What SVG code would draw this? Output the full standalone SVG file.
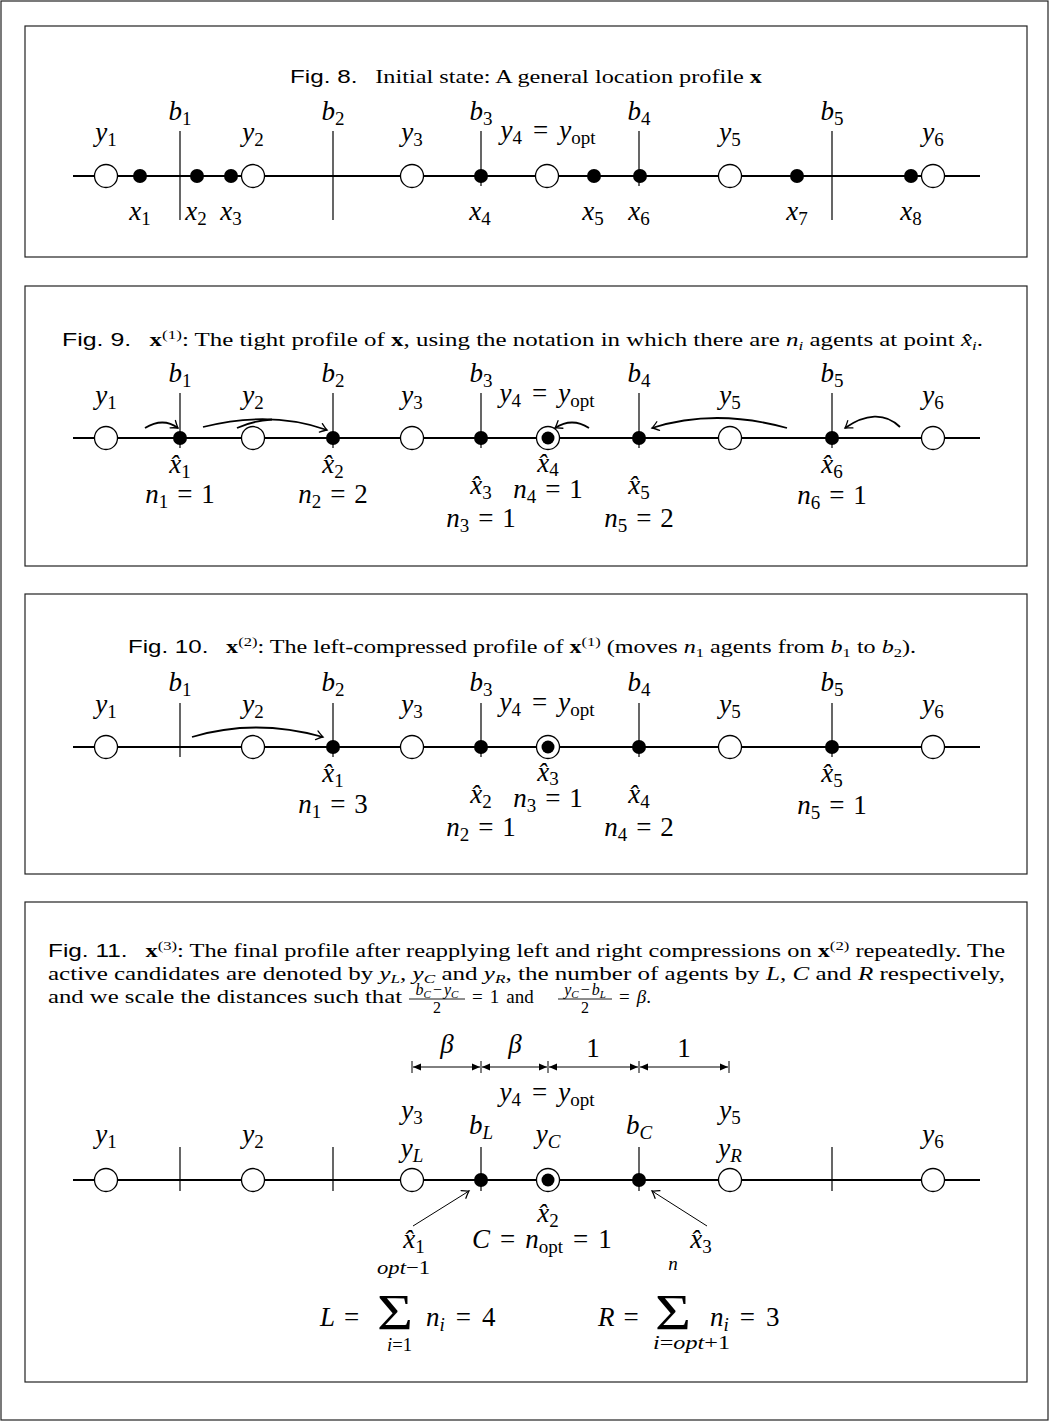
<svg xmlns="http://www.w3.org/2000/svg" width="1050" height="1422" viewBox="0 0 1050 1422">
<defs>
<style>
.frame{fill:none;stroke:#222;stroke-width:1.2}
.ax{stroke:#000;stroke-width:2;fill:none}
.bl{stroke:#000;stroke-width:1.2;fill:none}
.cand{fill:#fff;stroke:#000;stroke-width:1.3}
.ag{fill:#000}
.mv{stroke:#000;stroke-width:1.8;fill:none}
.end{marker-end:url(#to)}
.ptr{stroke:#000;stroke-width:1;fill:none;marker-end:url(#to)}
.dim{stroke:#000;stroke-width:1;fill:none;marker-start:url(#tri);marker-end:url(#tri)}
.tick{stroke:#000;stroke-width:1}
.m{font-family:"Liberation Serif",serif;font-size:27px;font-style:italic;text-anchor:middle;fill:#000}
.st{text-anchor:start}
.s{font-size:19px;font-style:normal}
.si{font-size:19px}
.u{font-style:normal}
.cap{font-family:"Liberation Serif",serif;font-size:19px;fill:#000}
.sf{font-family:"Liberation Sans",sans-serif}
.bx{font-weight:bold;font-style:normal}
.sup{font-size:13px}
.it{font-style:italic}
.sig{font-family:"Liberation Serif",serif;font-size:50px;font-style:normal}
.lim{font-family:"Liberation Serif",serif;font-size:19px;font-style:italic}
.fr{font-family:"Liberation Serif",serif;font-size:16px;text-anchor:middle}
</style>
<marker id="to" viewBox="-8 -6 10 12" markerWidth="10" markerHeight="12" refX="0" refY="0" orient="auto" markerUnits="userSpaceOnUse">
<path d="M-6.5,-4.5 Q-2,-1 0,0 Q-2,1 -6.5,4.5" fill="none" stroke="#000" stroke-width="1.3" stroke-linecap="round"/>
</marker>
<marker id="tri" viewBox="-9 -4 10 8" markerWidth="10" markerHeight="8" refX="0" refY="0" orient="auto-start-reverse" markerUnits="userSpaceOnUse">
<path d="M0,0 L-8,-3.5 L-8,3.5 Z" fill="#000"/>
</marker>
</defs>

<rect x="0" y="0" width="1050" height="1422" fill="#fff"/>
<rect class="frame" x="1" y="1" width="1047" height="1419"/>

<!-- ===== Fig. 8: initial location profile ===== -->
<g id="fig8">
<rect class="frame" x="25" y="26" width="1002" height="231"/>
<text class="cap" x="290" y="83" textLength="472" lengthAdjust="spacingAndGlyphs"><tspan class="sf">Fig. 8.</tspan><tspan dx="14">Initial state: A general location profile </tspan><tspan class="bx">x</tspan></text>
<g id="fig8-lines">
<line class="ax" x1="73" y1="176" x2="980" y2="176"/>
<line class="bl" x1="180" y1="131" x2="180" y2="220"/>
<line class="bl" x1="333" y1="131" x2="333" y2="220"/>
<line class="bl" x1="481" y1="131" x2="481" y2="186"/>
<line class="bl" x1="639" y1="131" x2="639" y2="186"/>
<line class="bl" x1="832" y1="131" x2="832" y2="220"/>
</g>
<g id="fig8-y1"><circle class="cand" cx="106" cy="176" r="11.5"/></g>
<g id="fig8-y2"><circle class="cand" cx="253" cy="176" r="11.5"/></g>
<g id="fig8-y3"><circle class="cand" cx="412" cy="176" r="11.5"/></g>
<g id="fig8-y4"><circle class="cand" cx="547" cy="176" r="11.5"/></g>
<g id="fig8-y5"><circle class="cand" cx="730" cy="176" r="11.5"/></g>
<g id="fig8-y6"><circle class="cand" cx="933" cy="176" r="11.5"/></g>
<g id="fig8-x1"><circle class="ag" cx="140" cy="176" r="7"/></g>
<g id="fig8-x2"><circle class="ag" cx="197" cy="176" r="7"/></g>
<g id="fig8-x3"><circle class="ag" cx="231" cy="176" r="7"/></g>
<g id="fig8-x4"><circle class="ag" cx="481" cy="176" r="7"/></g>
<g id="fig8-x5"><circle class="ag" cx="594" cy="176" r="7"/></g>
<g id="fig8-x6"><circle class="ag" cx="640" cy="176" r="7"/></g>
<g id="fig8-x7"><circle class="ag" cx="797" cy="176" r="7"/></g>
<g id="fig8-x8"><circle class="ag" cx="911" cy="176" r="7"/></g>
<g id="fig8-labels">
<text class="m" x="180" y="120">b<tspan class="s" dy="5">1</tspan></text>
<text class="m" x="333" y="120">b<tspan class="s" dy="5">2</tspan></text>
<text class="m" x="481" y="120">b<tspan class="s" dy="5">3</tspan></text>
<text class="m" x="639" y="120">b<tspan class="s" dy="5">4</tspan></text>
<text class="m" x="832" y="120">b<tspan class="s" dy="5">5</tspan></text>
<text class="m" x="106" y="141">y<tspan class="s" dy="5">1</tspan></text>
<text class="m" x="253" y="141">y<tspan class="s" dy="5">2</tspan></text>
<text class="m" x="412" y="141">y<tspan class="s" dy="5">3</tspan></text>
<text class="m" x="548" y="139">y<tspan class="s" dy="5">4</tspan><tspan class="u" dy="-5" dx="11">=</tspan><tspan dx="11">y</tspan><tspan class="s" dy="5">opt</tspan></text>
<text class="m" x="730" y="141">y<tspan class="s" dy="5">5</tspan></text>
<text class="m" x="933" y="141">y<tspan class="s" dy="5">6</tspan></text>
<text class="m" x="140" y="220">x<tspan class="s" dy="5">1</tspan></text>
<text class="m" x="196" y="220">x<tspan class="s" dy="5">2</tspan></text>
<text class="m" x="231" y="220">x<tspan class="s" dy="5">3</tspan></text>
<text class="m" x="480" y="220">x<tspan class="s" dy="5">4</tspan></text>
<text class="m" x="593" y="220">x<tspan class="s" dy="5">5</tspan></text>
<text class="m" x="639" y="220">x<tspan class="s" dy="5">6</tspan></text>
<text class="m" x="797" y="220">x<tspan class="s" dy="5">7</tspan></text>
<text class="m" x="911" y="220">x<tspan class="s" dy="5">8</tspan></text>
</g>
</g>

<!-- ===== Fig. 9: tight profile ===== -->
<g id="fig9">
<rect class="frame" x="25" y="286" width="1002" height="280"/>
<text class="cap" x="62" y="346" textLength="921" lengthAdjust="spacingAndGlyphs"><tspan class="sf">Fig. 9.</tspan><tspan class="bx" dx="14">x</tspan><tspan class="sup" dy="-7">(1)</tspan><tspan dy="7">: The tight profile of </tspan><tspan class="bx">x</tspan><tspan>, using the notation in which there are </tspan><tspan class="it">n</tspan><tspan class="sup it" dy="4">i</tspan><tspan dy="-4"> agents at point </tspan><tspan class="it">x&#x302;</tspan><tspan class="sup it" dy="4">i</tspan><tspan dy="-4">.</tspan></text>
<g id="fig9-lines">
<line class="ax" x1="73" y1="438" x2="980" y2="438"/>
<line class="bl" x1="180" y1="393" x2="180" y2="448"/>
<line class="bl" x1="333" y1="393" x2="333" y2="448"/>
<line class="bl" x1="481" y1="393" x2="481" y2="448"/>
<line class="bl" x1="639" y1="393" x2="639" y2="448"/>
<line class="bl" x1="832" y1="393" x2="832" y2="448"/>
</g>
<g id="fig9-y1"><circle class="cand" cx="106" cy="438" r="11.5"/></g>
<g id="fig9-y2"><circle class="cand" cx="253" cy="438" r="11.5"/></g>
<g id="fig9-y3"><circle class="cand" cx="412" cy="438" r="11.5"/></g>
<g id="fig9-y4"><circle class="cand" cx="548" cy="438" r="11.5"/><circle class="ag" cx="548" cy="438" r="6.5"/></g>
<g id="fig9-y5"><circle class="cand" cx="730" cy="438" r="11.5"/></g>
<g id="fig9-y6"><circle class="cand" cx="933" cy="438" r="11.5"/></g>
<g id="fig9-x1"><circle class="ag" cx="180" cy="438" r="7"/></g>
<g id="fig9-x2"><circle class="ag" cx="333" cy="438" r="7"/></g>
<g id="fig9-x3"><circle class="ag" cx="481" cy="438" r="7"/></g>
<g id="fig9-x5"><circle class="ag" cx="639" cy="438" r="7"/></g>
<g id="fig9-x6"><circle class="ag" cx="832" cy="438" r="7"/></g>
<g id="fig9-moves">
<path class="mv end" d="M145,428 Q163,417 178,428"/>
<path class="mv end" d="M203,427 Q270,410 327,430"/>
<path class="mv" d="M237,428 Q252,421 272,419.5"/>
<path class="mv end" d="M589,428 Q572,417 555,428"/>
<path class="mv end" d="M787,428 Q715,408 652,428"/>
<path class="mv end" d="M900,427 C885,412 865,414 845,428"/>
</g>
<g id="fig9-labels">
<text class="m" x="180" y="382">b<tspan class="s" dy="5">1</tspan></text>
<text class="m" x="333" y="382">b<tspan class="s" dy="5">2</tspan></text>
<text class="m" x="481" y="382">b<tspan class="s" dy="5">3</tspan></text>
<text class="m" x="639" y="382">b<tspan class="s" dy="5">4</tspan></text>
<text class="m" x="832" y="382">b<tspan class="s" dy="5">5</tspan></text>
<text class="m" x="106" y="404">y<tspan class="s" dy="5">1</tspan></text>
<text class="m" x="253" y="404">y<tspan class="s" dy="5">2</tspan></text>
<text class="m" x="412" y="404">y<tspan class="s" dy="5">3</tspan></text>
<text class="m" x="547" y="402">y<tspan class="s" dy="5">4</tspan><tspan class="u" dy="-5" dx="11">=</tspan><tspan dx="11">y</tspan><tspan class="s" dy="5">opt</tspan></text>
<text class="m" x="730" y="404">y<tspan class="s" dy="5">5</tspan></text>
<text class="m" x="933" y="404">y<tspan class="s" dy="5">6</tspan></text>
<text class="m" x="180" y="473">x&#x302;<tspan class="s" dy="5">1</tspan></text>
<text class="m" x="333" y="473">x&#x302;<tspan class="s" dy="5">2</tspan></text>
<text class="m" x="548" y="472">x&#x302;<tspan class="s" dy="4">4</tspan></text>
<text class="m" x="832" y="473">x&#x302;<tspan class="s" dy="5">6</tspan></text>
<text class="m" x="481" y="494">x&#x302;<tspan class="s" dy="5">3</tspan></text>
<text class="m" x="639" y="494">x&#x302;<tspan class="s" dy="5">5</tspan></text>
<text class="m" x="548" y="498">n<tspan class="s" dy="5">4</tspan><tspan class="u" dy="-5" dx="9">=</tspan><tspan class="u" dx="9">1</tspan></text>
<text class="m" x="180" y="503">n<tspan class="s" dy="5">1</tspan><tspan class="u" dy="-5" dx="9">=</tspan><tspan class="u" dx="9">1</tspan></text>
<text class="m" x="333" y="503">n<tspan class="s" dy="5">2</tspan><tspan class="u" dy="-5" dx="9">=</tspan><tspan class="u" dx="9">2</tspan></text>
<text class="m" x="832" y="504">n<tspan class="s" dy="5">6</tspan><tspan class="u" dy="-5" dx="9">=</tspan><tspan class="u" dx="9">1</tspan></text>
<text class="m" x="481" y="527">n<tspan class="s" dy="5">3</tspan><tspan class="u" dy="-5" dx="9">=</tspan><tspan class="u" dx="9">1</tspan></text>
<text class="m" x="639" y="527">n<tspan class="s" dy="5">5</tspan><tspan class="u" dy="-5" dx="9">=</tspan><tspan class="u" dx="9">2</tspan></text>
</g>
</g>

<!-- ===== Fig. 10: left-compressed profile ===== -->
<g id="fig10">
<rect class="frame" x="25" y="594" width="1002" height="280"/>
<text class="cap" x="128" y="653" textLength="788" lengthAdjust="spacingAndGlyphs"><tspan class="sf">Fig. 10.</tspan><tspan class="bx" dx="14">x</tspan><tspan class="sup" dy="-7">(2)</tspan><tspan dy="7">: The left-compressed profile of </tspan><tspan class="bx">x</tspan><tspan class="sup" dy="-7">(1)</tspan><tspan dy="7"> (moves </tspan><tspan class="it">n</tspan><tspan class="sup" dy="4">1</tspan><tspan dy="-4"> agents from </tspan><tspan class="it">b</tspan><tspan class="sup" dy="4">1</tspan><tspan dy="-4"> to </tspan><tspan class="it">b</tspan><tspan class="sup" dy="4">2</tspan><tspan dy="-4">).</tspan></text>
<g id="fig10-lines">
<line class="ax" x1="73" y1="747" x2="980" y2="747"/>
<line class="bl" x1="180" y1="703" x2="180" y2="757"/>
<line class="bl" x1="333" y1="703" x2="333" y2="757"/>
<line class="bl" x1="481" y1="703" x2="481" y2="757"/>
<line class="bl" x1="639" y1="703" x2="639" y2="757"/>
<line class="bl" x1="832" y1="703" x2="832" y2="757"/>
</g>
<g id="fig10-y1"><circle class="cand" cx="106" cy="747" r="11.5"/></g>
<g id="fig10-y2"><circle class="cand" cx="253" cy="747" r="11.5"/></g>
<g id="fig10-y3"><circle class="cand" cx="412" cy="747" r="11.5"/></g>
<g id="fig10-y4"><circle class="cand" cx="548" cy="747" r="11.5"/><circle class="ag" cx="548" cy="747" r="6.5"/></g>
<g id="fig10-y5"><circle class="cand" cx="730" cy="747" r="11.5"/></g>
<g id="fig10-y6"><circle class="cand" cx="933" cy="747" r="11.5"/></g>
<g id="fig10-x1"><circle class="ag" cx="333" cy="747" r="7"/></g>
<g id="fig10-x2"><circle class="ag" cx="481" cy="747" r="7"/></g>
<g id="fig10-x4"><circle class="ag" cx="639" cy="747" r="7"/></g>
<g id="fig10-x5"><circle class="ag" cx="832" cy="747" r="7"/></g>
<g id="fig10-moves">
<path class="mv end" d="M192,737 Q255,718 323,737"/>
</g>
<g id="fig10-labels">
<text class="m" x="180" y="691">b<tspan class="s" dy="5">1</tspan></text>
<text class="m" x="333" y="691">b<tspan class="s" dy="5">2</tspan></text>
<text class="m" x="481" y="691">b<tspan class="s" dy="5">3</tspan></text>
<text class="m" x="639" y="691">b<tspan class="s" dy="5">4</tspan></text>
<text class="m" x="832" y="691">b<tspan class="s" dy="5">5</tspan></text>
<text class="m" x="106" y="713">y<tspan class="s" dy="5">1</tspan></text>
<text class="m" x="253" y="713">y<tspan class="s" dy="5">2</tspan></text>
<text class="m" x="412" y="713">y<tspan class="s" dy="5">3</tspan></text>
<text class="m" x="547" y="711">y<tspan class="s" dy="5">4</tspan><tspan class="u" dy="-5" dx="11">=</tspan><tspan dx="11">y</tspan><tspan class="s" dy="5">opt</tspan></text>
<text class="m" x="730" y="713">y<tspan class="s" dy="5">5</tspan></text>
<text class="m" x="933" y="713">y<tspan class="s" dy="5">6</tspan></text>
<text class="m" x="333" y="782">x&#x302;<tspan class="s" dy="5">1</tspan></text>
<text class="m" x="548" y="781">x&#x302;<tspan class="s" dy="4">3</tspan></text>
<text class="m" x="832" y="782">x&#x302;<tspan class="s" dy="5">5</tspan></text>
<text class="m" x="481" y="803">x&#x302;<tspan class="s" dy="5">2</tspan></text>
<text class="m" x="639" y="803">x&#x302;<tspan class="s" dy="5">4</tspan></text>
<text class="m" x="548" y="807">n<tspan class="s" dy="5">3</tspan><tspan class="u" dy="-5" dx="9">=</tspan><tspan class="u" dx="9">1</tspan></text>
<text class="m" x="333" y="813">n<tspan class="s" dy="5">1</tspan><tspan class="u" dy="-5" dx="9">=</tspan><tspan class="u" dx="9">3</tspan></text>
<text class="m" x="832" y="814">n<tspan class="s" dy="5">5</tspan><tspan class="u" dy="-5" dx="9">=</tspan><tspan class="u" dx="9">1</tspan></text>
<text class="m" x="481" y="836">n<tspan class="s" dy="5">2</tspan><tspan class="u" dy="-5" dx="9">=</tspan><tspan class="u" dx="9">1</tspan></text>
<text class="m" x="639" y="836">n<tspan class="s" dy="5">4</tspan><tspan class="u" dy="-5" dx="9">=</tspan><tspan class="u" dx="9">2</tspan></text>
</g>
</g>

<!-- ===== Fig. 11: final profile ===== -->
<g id="fig11">
<rect class="frame" x="25" y="902" width="1002" height="480"/>
<text class="cap" x="48" y="957" textLength="957" lengthAdjust="spacingAndGlyphs"><tspan class="sf">Fig. 11.</tspan><tspan class="bx" dx="14">x</tspan><tspan class="sup" dy="-7">(3)</tspan><tspan dy="7">: The final profile after reapplying left and right compressions on </tspan><tspan class="bx">x</tspan><tspan class="sup" dy="-7">(2)</tspan><tspan dy="7"> repeatedly. The</tspan></text>
<text class="cap" x="48" y="980" textLength="957" lengthAdjust="spacingAndGlyphs">active candidates are denoted by <tspan class="it">y</tspan><tspan class="sup it" dy="3">L</tspan><tspan dy="-3">, </tspan><tspan class="it">y</tspan><tspan class="sup it" dy="3">C</tspan><tspan dy="-3"> and </tspan><tspan class="it">y</tspan><tspan class="sup it" dy="3">R</tspan><tspan dy="-3">, the number of agents by </tspan><tspan class="it">L</tspan>, <tspan class="it">C</tspan> and <tspan class="it">R</tspan> respectively,</text>
<text class="cap" x="48" y="1003" textLength="354" lengthAdjust="spacingAndGlyphs">and we scale the distances such that</text>
<g id="fig11-fractions">
<text class="fr" x="437" y="995"><tspan class="it">b</tspan><tspan class="it" font-size="11" dy="3">C</tspan><tspan dy="-3" dx="2">−</tspan><tspan class="it" dx="2">y</tspan><tspan class="it" font-size="11" dy="3">C</tspan></text>
<line x1="409" y1="999" x2="465" y2="999" stroke="#000" stroke-width="0.9"/>
<text class="fr" x="437" y="1013">2</text>
<text class="cap" x="472" y="1003">=<tspan dx="7">1</tspan><tspan dx="7">and</tspan></text>
<text class="fr" x="585" y="995"><tspan class="it">y</tspan><tspan class="it" font-size="11" dy="3">C</tspan><tspan dy="-3" dx="2">−</tspan><tspan class="it" dx="2">b</tspan><tspan class="it" font-size="11" dy="3">L</tspan></text>
<line x1="558" y1="999" x2="612" y2="999" stroke="#000" stroke-width="0.9"/>
<text class="fr" x="585" y="1013">2</text>
<text class="cap" x="619" y="1003">=<tspan class="it" dx="7">β</tspan>.</text>
</g>

<g id="fig11-dims">
<line class="tick" x1="412" y1="1061" x2="412" y2="1073"/>
<line class="tick" x1="481" y1="1061" x2="481" y2="1073"/>
<line class="tick" x1="548" y1="1061" x2="548" y2="1073"/>
<line class="tick" x1="639" y1="1061" x2="639" y2="1073"/>
<line class="tick" x1="729" y1="1061" x2="729" y2="1073"/>
<line class="dim" x1="413" y1="1067" x2="480" y2="1067"/>
<line class="dim" x1="482" y1="1067" x2="547" y2="1067"/>
<line class="dim" x1="549" y1="1067" x2="638" y2="1067"/>
<line class="dim" x1="640" y1="1067" x2="728" y2="1067"/>
<text class="m" x="447" y="1053">β</text>
<text class="m" x="515" y="1053">β</text>
<text class="m u" x="593" y="1057">1</text>
<text class="m u" x="684" y="1057">1</text>
</g>

<g id="fig11-lines">
<line class="ax" x1="73" y1="1180" x2="980" y2="1180"/>
<line class="bl" x1="180" y1="1147" x2="180" y2="1191"/>
<line class="bl" x1="333" y1="1147" x2="333" y2="1191"/>
<line class="bl" x1="481" y1="1147" x2="481" y2="1191"/>
<line class="bl" x1="639" y1="1147" x2="639" y2="1191"/>
<line class="bl" x1="832" y1="1147" x2="832" y2="1191"/>
</g>
<g id="fig11-y1"><circle class="cand" cx="106" cy="1180" r="11.5"/></g>
<g id="fig11-y2"><circle class="cand" cx="253" cy="1180" r="11.5"/></g>
<g id="fig11-y3"><circle class="cand" cx="412" cy="1180" r="11.5"/></g>
<g id="fig11-y4"><circle class="cand" cx="548" cy="1180" r="11.5"/><circle class="ag" cx="548" cy="1180" r="6.5"/></g>
<g id="fig11-y5"><circle class="cand" cx="730" cy="1180" r="11.5"/></g>
<g id="fig11-y6"><circle class="cand" cx="933" cy="1180" r="11.5"/></g>
<g id="fig11-x1"><circle class="ag" cx="481" cy="1180" r="7"/></g>
<g id="fig11-x3"><circle class="ag" cx="639" cy="1180" r="7"/></g>
<g id="fig11-pointers">
<path class="ptr" d="M413,1226 L469,1191"/>
<path class="ptr" d="M707,1226 L652,1191"/>
</g>
<g id="fig11-labels">
<text class="m" x="547" y="1101">y<tspan class="s" dy="5">4</tspan><tspan class="u" dy="-5" dx="11">=</tspan><tspan dx="11">y</tspan><tspan class="s" dy="5">opt</tspan></text>
<text class="m" x="412" y="1119">y<tspan class="s" dy="5">3</tspan></text>
<text class="m" x="412" y="1157">y<tspan class="si" dy="5">L</tspan></text>
<text class="m" x="481" y="1134">b<tspan class="si" dy="5">L</tspan></text>
<text class="m" x="548" y="1143">y<tspan class="si" dy="5">C</tspan></text>
<text class="m" x="639" y="1134">b<tspan class="si" dy="5">C</tspan></text>
<text class="m" x="730" y="1119">y<tspan class="s" dy="5">5</tspan></text>
<text class="m" x="730" y="1157">y<tspan class="si" dy="5">R</tspan></text>
<text class="m" x="106" y="1143">y<tspan class="s" dy="5">1</tspan></text>
<text class="m" x="253" y="1143">y<tspan class="s" dy="5">2</tspan></text>
<text class="m" x="933" y="1143">y<tspan class="s" dy="5">6</tspan></text>
<text class="m" x="548" y="1222">x&#x302;<tspan class="s" dy="5">2</tspan></text>
<text class="m" x="414" y="1248">x&#x302;<tspan class="s" dy="5">1</tspan></text>
<text class="m st" x="472" y="1248">C<tspan class="u" dx="10">=</tspan><tspan dx="10">n</tspan><tspan class="s" dy="5">opt</tspan><tspan class="u" dy="-5" dx="10">=</tspan><tspan class="u" dx="10">1</tspan></text>
<text class="m" x="701" y="1248">x&#x302;<tspan class="s" dy="5">3</tspan></text>
</g>
<g id="fig11-sums">
<text class="m st" x="320" y="1326">L<tspan class="u" dx="9">=</tspan></text>
<text class="sig" x="377" y="1329" textLength="36" lengthAdjust="spacingAndGlyphs">Σ</text>
<text class="lim" x="377" y="1274" textLength="53" lengthAdjust="spacingAndGlyphs">opt<tspan class="u">−1</tspan></text>
<text class="lim" x="387" y="1351" textLength="25" lengthAdjust="spacingAndGlyphs">i<tspan class="u">=1</tspan></text>
<text class="m st" x="426" y="1326">n<tspan class="si" dy="5">i</tspan><tspan class="u" dy="-5" dx="11">=</tspan><tspan class="u" dx="11">4</tspan></text>
<text class="m st" x="598" y="1326">R<tspan class="u" dx="9">=</tspan></text>
<text class="sig" x="655" y="1329" textLength="36" lengthAdjust="spacingAndGlyphs">Σ</text>
<text class="lim" x="673" y="1270" text-anchor="middle">n</text>
<text class="lim" x="653" y="1349" textLength="77" lengthAdjust="spacingAndGlyphs">i<tspan class="u">=</tspan>opt<tspan class="u">+1</tspan></text>
<text class="m st" x="710" y="1326">n<tspan class="si" dy="5">i</tspan><tspan class="u" dy="-5" dx="11">=</tspan><tspan class="u" dx="11">3</tspan></text>
</g>
</g>
</svg>
